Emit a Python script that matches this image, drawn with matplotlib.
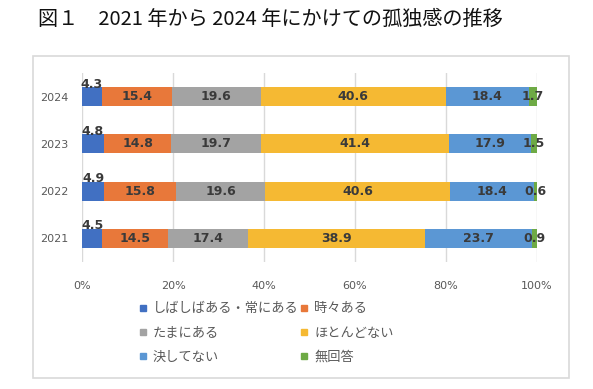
import numpy as np
import matplotlib
matplotlib.use("Agg")
import matplotlib.pyplot as plt
from matplotlib.lines import Line2D
from matplotlib.patches import Rectangle

# DATA ----------------------------
years = ["2021", "2022", "2023", "2024"]
categories = ["しばしばある・常にある", "時々ある", "たまにある", "ほとんどない", "決してない", "無回答"]
often = [4.5, 4.9, 4.8, 4.3]
sometimes = [14.5, 15.8, 14.8, 15.4]
occasionally = [17.4, 19.6, 19.7, 19.6]
hardly = [38.9, 40.6, 41.4, 40.6]
never = [23.7, 18.4, 17.9, 18.4]
no_answer = [0.9, 0.6, 1.5, 1.7]
xticks = [0, 20, 40, 60, 80, 100]
title = "図１　2021 年から 2024 年にかけての孤独感の推移"

series = [often, sometimes, occasionally, hardly, never, no_answer]
colors = ["#4170C2", "#E8783A", "#A3A3A3", "#F5B933", "#5B97D4", "#6EAA45"]

# PLOTTING ------------------------
plt.rcParams['font.family'] = ['Noto Sans CJK JP', 'DejaVu Sans']

fig = plt.figure(figsize=(5.93, 3.89), dpi=100)

# outer chart frame
fig.patches.append(Rectangle((33 / 593, 1 - 378 / 389), 536 / 593, 322 / 389,
                             transform=fig.transFigure, fill=False,
                             edgecolor="#D9D9D9", linewidth=1.2))

fig.text(38 / 593, 1 - 19 / 389, title, fontsize=14.5, ha="left", va="center",
         color="#111111")

ax = fig.add_axes([82 / 593, 1 - 262 / 389, 455 / 593, 189 / 389])

y = np.arange(len(years))
left = np.zeros(len(years))
for k, (vals, col) in enumerate(zip(series, colors)):
    vals = np.array(vals)
    ax.barh(y, vals, left=left, height=0.4, color=col, zorder=2)
    for i, v in enumerate(vals):
        cx = left[i] + v / 2
        if k == 0:
            ax.text(cx, y[i] + 0.19, f"{v:.1f}", ha="center", va="baseline",
                    fontsize=9, fontweight="bold", color="#3A3A3A",
                    family="DejaVu Sans", zorder=3)
        else:
            ax.text(cx, y[i], f"{v:.1f}", ha="center", va="center",
                    fontsize=9, fontweight="bold", color="#3A3A3A",
                    family="DejaVu Sans", zorder=3)
    left += vals

ax.set_xlim(0, 100)
ax.set_ylim(-0.5, 3.5)
ax.set_yticks(y, years)
ax.set_xticks(xticks, [f"{t}%" for t in xticks])
for s in ax.spines.values():
    s.set_visible(False)
ax.grid(axis="x", color="#D9D9D9", linewidth=1, zorder=0)
ax.tick_params(axis="both", length=0, labelsize=8, colors="#595959")
ax.tick_params(axis="x", pad=14)
ax.tick_params(axis="y", pad=10)
for lab in ax.get_xticklabels() + ax.get_yticklabels():
    lab.set_family("DejaVu Sans")

# legend: row-wise order in 2 columns
order = [0, 2, 4, 1, 3, 5]
handles = [Line2D([], [], marker="s", linestyle="none", markersize=4.5,
                  color=colors[i]) for i in order]
labels = [categories[i] for i in order]
leg = fig.legend(handles, labels, ncol=2, loc="center left",
                 bbox_to_anchor=(138 / 593, 1 - 333 / 389),
                 frameon=False, fontsize=9.5, handlelength=0.7,
                 handletextpad=0.4, columnspacing=0.1, labelspacing=0.85,
                 borderpad=0, borderaxespad=0)
for t in leg.get_texts():
    t.set_color("#595959")

fig.savefig("out.png", dpi=100)
